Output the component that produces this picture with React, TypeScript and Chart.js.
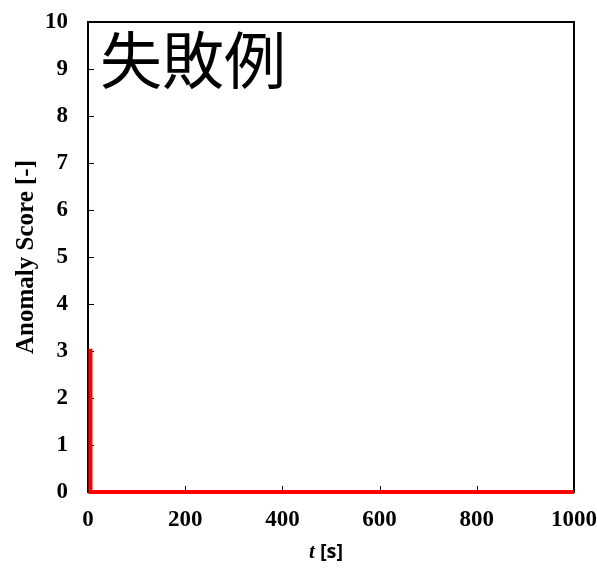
import React, { useEffect, useRef } from "react";
import { Chart, registerables } from "chart.js";

Chart.register(...registerables);

const seriesName = "Anomaly Score";
const timeValues = [5, 5, 1000];
const scoreValues = [3.05, 0, 0];
const xTickStep = 200;
const yTickStep = 1;
const titleText = "失敗例";
const yAxisTitle = "Anomaly Score [-]";
const xAxisTitleItalic = "t";
const xAxisTitleRest = " [s]";

const framePlugin = {
  id: "frame",
  beforeDatasetsDraw(chart: any) {
    const { ctx, chartArea } = chart;
    const { left, right, top, bottom } = chartArea;
    ctx.save();
    ctx.strokeStyle = "#000";
    ctx.lineWidth = 2;
    ctx.strokeRect(left, top, right - left, bottom - top);
    ctx.lineWidth = 1;
    const ys = chart.scales.y;
    ys.ticks.forEach((t: any) => {
      const py = Math.round(ys.getPixelForValue(t.value)) + 0.5;
      ctx.beginPath();
      ctx.moveTo(left, py);
      ctx.lineTo(left + 6, py);
      ctx.stroke();
    });
    const xs = chart.scales.x;
    xs.ticks.forEach((t: any) => {
      const px = Math.round(xs.getPixelForValue(t.value)) + 0.5;
      ctx.beginPath();
      ctx.moveTo(px, bottom);
      ctx.lineTo(px, bottom - 6);
      ctx.stroke();
    });
    ctx.restore();
  },
  afterDraw(chart: any) {
    const { ctx, chartArea } = chart;
    ctx.save();
    ctx.fillStyle = "#000";
    // in-plot title
    ctx.font = '62px "Noto Sans CJK JP"';
    ctx.textBaseline = "middle";
    ctx.textAlign = "left";
    ctx.fillText(titleText, chartArea.left + 12, 60);
    // y-axis title
    ctx.save();
    ctx.translate(27, (chartArea.top + chartArea.bottom) / 2);
    ctx.rotate(-Math.PI / 2);
    ctx.font = 'bold 25px "Liberation Serif"';
    ctx.textAlign = "center";
    ctx.textBaseline = "middle";
    ctx.fillText(yAxisTitle, 0, 0);
    ctx.restore();
    // x-axis title
    ctx.font = 'italic bold 21px "Liberation Serif"';
    const w1 = ctx.measureText(xAxisTitleItalic).width;
    ctx.font = 'bold 20px "Open Sans"';
    const w2 = ctx.measureText(xAxisTitleRest).width;
    const cx = (chartArea.left + chartArea.right) / 2 - 5;
    const x0 = cx - (w1 + w2) / 2;
    const yb = 558;
    ctx.textAlign = "left";
    ctx.textBaseline = "alphabetic";
    ctx.font = 'italic bold 21px "Liberation Serif"';
    ctx.fillText(xAxisTitleItalic, x0, yb);
    ctx.font = 'bold 20px "Open Sans"';
    ctx.fillText(xAxisTitleRest, x0 + w1, yb);
    ctx.restore();
  },
};

function zeroPadding(scale: any) {
  scale.paddingLeft = 0;
  scale.paddingRight = 0;
  scale.paddingTop = 0;
  scale.paddingBottom = 0;
}

export default function App() {
  const ref = useRef<HTMLCanvasElement | null>(null);
  useEffect(() => {
    if (!ref.current) return;
    const data = timeValues.map((t, i) => ({ x: t, y: scoreValues[i] }));
    const tickFont = { family: '"Liberation Serif"', size: 23, weight: "bold" as const };
    const chart = new Chart(ref.current, {
      type: "line",
      data: {
        datasets: [
          {
            label: seriesName,
            data,
            borderColor: "#ff0000",
            backgroundColor: "#ff0000",
            borderWidth: 4,
            pointRadius: 0,
            borderJoinStyle: "miter",
            tension: 0,
            clip: false as any,
          },
        ],
      },
      options: {
        responsive: false,
        animation: false,
        layout: { padding: { top: 22, right: 23, left: 0, bottom: 0 } },
        plugins: { legend: { display: false }, tooltip: { enabled: false } },
        scales: {
          x: {
            type: "linear",
            min: 0,
            max: 1000,
            ticks: {
              stepSize: xTickStep,
              font: tickFont,
              color: "#000",
              padding: 14,
              maxRotation: 0,
              callback: (v: any) => String(v),
            },
            grid: { display: false, drawTicks: false },
            border: { display: false },
            afterFit(scale: any) {
              scale.height = 78;
              zeroPadding(scale);
            },
          },
          y: {
            min: 0,
            max: 10,
            ticks: { stepSize: yTickStep, font: tickFont, color: "#000", padding: 20, callback: (v: any) => String(v) },
            grid: { display: false, drawTicks: false },
            border: { display: false },
            afterFit(scale: any) {
              scale.width = 88;
              zeroPadding(scale);
            },
          },
        },
      },
      plugins: [framePlugin],
    });
    return () => chart.destroy();
  }, []);
  return (
    <div style={{ position: "fixed", left: 0, top: 0, width: 597, height: 570, background: "#fff" }}>
      <canvas ref={ref} width={597} height={570} style={{ width: 597, height: 570 }} />
    </div>
  );
}
